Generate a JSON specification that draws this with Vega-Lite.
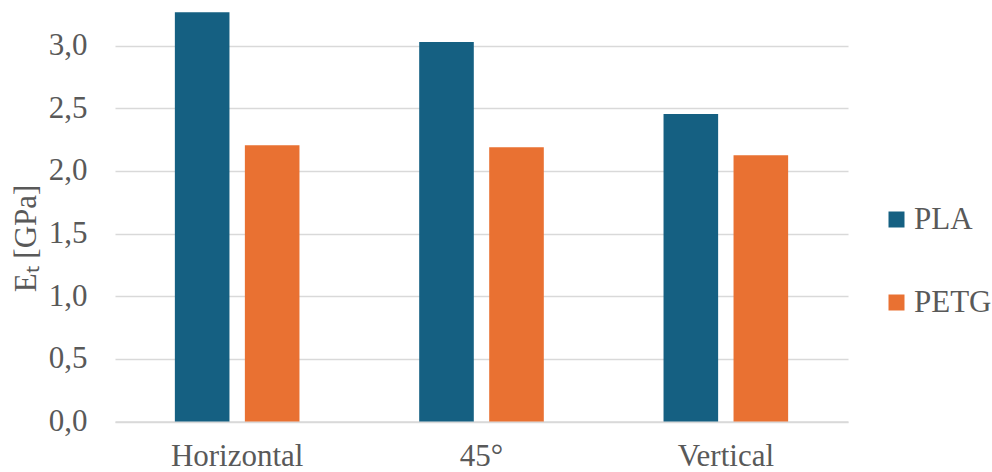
{
  "$schema": "https://vega.github.io/schema/vega-lite/v6.json",
  "autosize": {"type": "none"},
  "padding": {"left": 115, "top": 0, "right": 144, "bottom": 50.5},
  "width": 733,
  "height": 421.5,
  "background": "white",
  "data": {
    "values": [
      {"orientation": "Horizontal", "material": "PLA", "value": 3.267},
      {"orientation": "Horizontal", "material": "PETG", "value": 2.205},
      {"orientation": "45°", "material": "PLA", "value": 3.03},
      {"orientation": "45°", "material": "PETG", "value": 2.19},
      {"orientation": "Vertical", "material": "PLA", "value": 2.455},
      {"orientation": "Vertical", "material": "PETG", "value": 2.125}
    ]
  },
  "mark": {"type": "bar"},
  "encoding": {
    "x": {
      "field": "orientation",
      "type": "nominal",
      "sort": ["Horizontal", "45°", "Vertical"],
      "scale": {"paddingInner": 0.49, "paddingOuter": 0.245},
      "axis": {
        "title": null,
        "labelAngle": 0,
        "ticks": false,
        "domain": true,
        "domainColor": "#d9d9d9",
        "domainWidth": 1.5,
        "labelFont": "Liberation Serif",
        "labelFontSize": 31,
        "labelColor": "#595959",
        "labelPadding": 20
      }
    },
    "xOffset": {
      "field": "material",
      "type": "nominal",
      "sort": ["PLA", "PETG"],
      "scale": {"paddingInner": 0.22, "paddingOuter": 0}
    },
    "y": {
      "field": "value",
      "type": "quantitative",
      "scale": {"domain": [0, 3.365], "nice": false, "zero": true},
      "axis": {
        "title": "Eₜ [GPa]",
        "titleFont": "Liberation Serif",
        "titleFontSize": 31,
        "titleFontWeight": "normal",
        "titleColor": "#595959",
        "titlePadding": 6,
        "titleY": 238,
        "values": [0, 0.5, 1, 1.5, 2, 2.5, 3],
        "labelExpr": "replace(format(datum.value, '.1f'), '.', ',')",
        "domain": false,
        "ticks": false,
        "grid": true,
        "gridColor": "#d9d9d9",
        "gridWidth": 1.5,
        "labelFont": "Liberation Serif",
        "labelFontSize": 31,
        "labelColor": "#595959",
        "labelPadding": 28
      }
    },
    "color": {
      "field": "material",
      "type": "nominal",
      "sort": ["PLA", "PETG"],
      "scale": {"domain": ["PLA", "PETG"], "range": ["#156082", "#E97132"]},
      "legend": {
        "title": null,
        "orient": "none",
        "legendX": 766,
        "legendY": 204,
        "symbolType": "square",
        "symbolSize": 256,
        "symbolStrokeWidth": 0,
        "symbolOpacity": 1,
        "labelFont": "Liberation Serif",
        "labelFontSize": 31,
        "labelColor": "#595959",
        "labelOffset": 2,
        "rowPadding": 51
      }
    }
  },
  "config": {"view": {"stroke": null}}
}
